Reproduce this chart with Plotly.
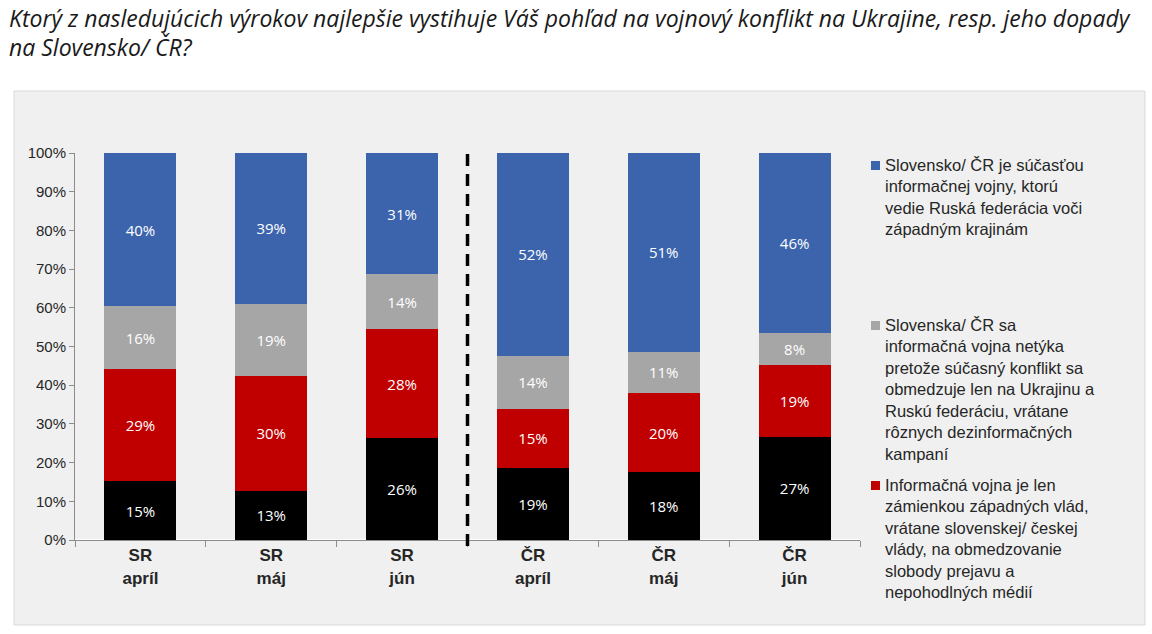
import plotly.graph_objects as go

categories = ["SR<br>apríl", "SR<br>máj", "SR<br>jún", "ČR<br>apríl", "ČR<br>máj", "ČR<br>jún"]

# stacked from bottom to top
black_vals = [15.2, 12.7, 26.3, 18.7, 17.5, 26.7]
red_vals = [28.9, 29.7, 28.1, 15.1, 20.5, 18.6]
gray_vals = [16.3, 18.7, 14.3, 13.8, 10.7, 8.3]
blue_vals = [39.6, 38.9, 31.3, 52.4, 51.3, 46.4]

series_names = [
    "Slovensko/ ČR je súčasťou<br>informačnej vojny, ktorú<br>vedie Ruská federácia voči<br>západným krajinám",
    "Slovenska/ ČR sa<br>informačná vojna netýka<br>pretože súčasný konflikt sa<br>obmedzuje len na Ukrajinu a<br>Ruskú federáciu, vrátane<br>rôznych dezinformačných<br>kampaní",
    "Informačná vojna je len<br>zámienkou západných vlád,<br>vrátane slovenskej/ českej<br>vlády, na obmedzovanie<br>slobody prejavu a<br>nepohodlných médií",
]
legend_colors = ["#3c64ad", "#a6a6a6", "#c00000"]
legend_y_px = [156, 316, 476]

title_lines = [
    "Ktorý z nasledujúcich výrokov najlepšie vystihuje Váš pohľad na vojnový konflikt na Ukrajine, resp. jeho dopady",
    "na Slovensko/ ČR?",
]
title_y_px = [18, 47]

W, H = 1152, 634
L, R, T, B = 75, 292, 153, 94
pw, ph = W - L - R, H - T - B

def px_x(x):
    return (x - L) / pw

def px_y(y):
    return (H - B - y) / ph

fig = go.Figure()
label_font = dict(family="Open Sans, Noto Sans, sans-serif", size=15, color="white")
for vals, color, name in [
    (black_vals, "#000000", "Nevie"),
    (red_vals, "#c00000", "red"),
    (gray_vals, "#a6a6a6", "gray"),
    (blue_vals, "#3c64ad", "blue"),
]:
    fig.add_trace(go.Bar(
        x=categories, y=vals, marker=dict(color=color, line=dict(width=0)),
        width=0.55, text=[f"{round(v):d}%" for v in vals], texttemplate="%{text}",
        textposition="inside", insidetextanchor="middle", textfont=label_font,
        showlegend=False, name=name, hoverinfo="skip",
    ))

shapes = [
    dict(type="rect", xref="paper", yref="paper", x0=px_x(14), x1=px_x(1145), y0=px_y(625), y1=px_y(91),
         fillcolor="#f0f0f0", line=dict(color="#d9d9d9", width=1), layer="below"),
    dict(type="line", xref="x", yref="paper", x0=2.5, x1=2.5, y0=px_y(546), y1=px_y(150),
         line=dict(color="black", width=3.5, dash="12px,8px")),
]
annotations = []
for line, yc in zip(title_lines, title_y_px):
    annotations.append(dict(xref="paper", yref="paper", x=px_x(7), y=px_y(yc),
                            xanchor="left", yanchor="middle", align="left", showarrow=False,
                            text=line, font=dict(family="Open Sans, Noto Sans, sans-serif", size=23,
                                                 color="#1a1a1a", style="italic")))
for name, col, ytop in zip(series_names, legend_colors, legend_y_px):
    shapes.append(dict(type="rect", xref="paper", yref="paper",
                       x0=px_x(871), x1=px_x(880), y0=px_y(ytop + 14), y1=px_y(ytop + 5),
                       fillcolor=col, line=dict(width=0)))
    annotations.append(dict(xref="paper", yref="paper", x=px_x(883), y=px_y(ytop - 2),
                            xanchor="left", yanchor="top", align="left", showarrow=False,
                            text=name, font=dict(family="Liberation Sans, Arial, sans-serif", size=16.5, color="#262626")))

fig.update_layout(
    width=W, height=H, barmode="stack",
    margin=dict(l=L, r=R, t=T, b=B, autoexpand=False),
    paper_bgcolor="white", plot_bgcolor="rgba(0,0,0,0)",
    xaxis=dict(range=[-0.5, 5.5], showgrid=False, showline=True, linecolor="#8c8c8c", linewidth=1,
               ticks="outside", tickson="boundaries", ticklen=6, tickcolor="#8c8c8c",
               tickfont=dict(family="Liberation Sans, Arial, sans-serif", size=17, color="#262626", weight="bold")),
    yaxis=dict(range=[0, 100], showgrid=False, showline=True, linecolor="#8c8c8c", linewidth=1,
               ticks="outside", ticklen=5, tickcolor="#8c8c8c", dtick=10, ticksuffix="%",
               tickfont=dict(family="Liberation Sans, Arial, sans-serif", size=15, color="#262626")),
    shapes=shapes, annotations=annotations, showlegend=False,
)

fig.write_html("out.html")
